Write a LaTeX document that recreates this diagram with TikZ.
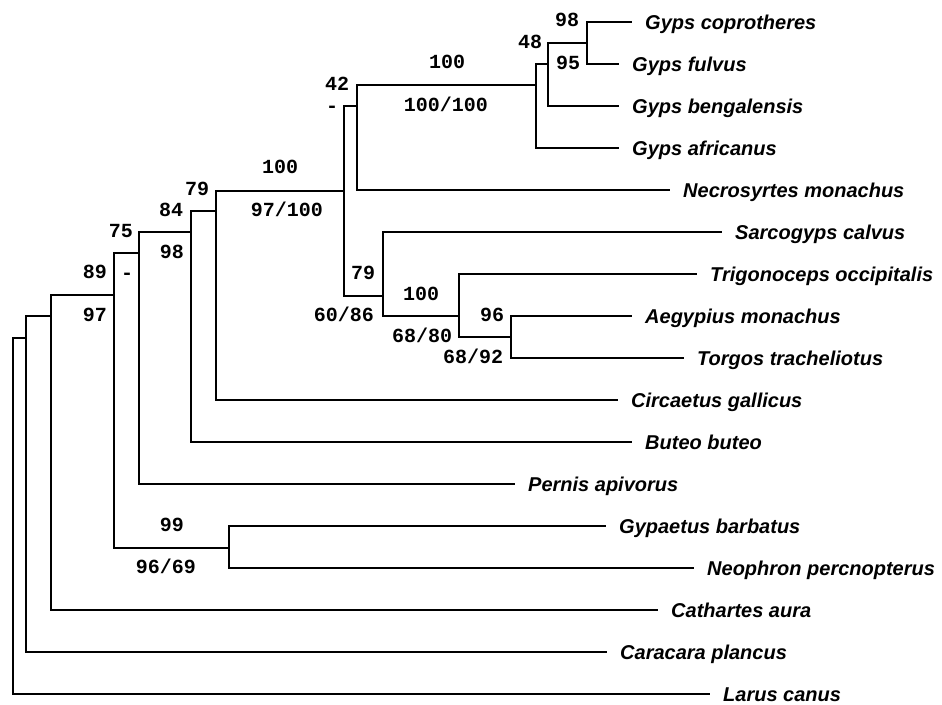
\documentclass[tikz,border=0pt]{standalone}
\usepackage{fontspec}
\setmainfont{Liberation Sans}
\newfontfamily\bootfont{Liberation Mono}
\usetikzlibrary{positioning}

\begin{document}
\begin{tikzpicture}[x=1pt,y=-1pt,
  branch/.style={line width=1.3pt},
  leaf/.style={anchor=west,inner xsep=13pt,inner ysep=0pt,text height=15pt,text depth=1pt,
    font=\fontsize{20}{24}\selectfont\bfseries\itshape},
  boot/.style={inner sep=0pt,text height=11.5pt,text depth=0pt,
    font=\fontsize{20}{24}\selectfont\bootfont\bfseries}]
\useasboundingbox (0,0) rectangle (942,704);
% inner nodes of the tree
\coordinate (R) at (13,516);
\coordinate (A) at (26,338);
\coordinate (B) at (51,316);
\coordinate (C) at (114,295);
\coordinate (D) at (139,253);
\coordinate (E) at (191,232);
\coordinate (F) at (216,211);
\coordinate (H) at (344,191);
\coordinate (I) at (357,106);
\coordinate (K) at (536,85);
\coordinate (L) at (548,64);
\coordinate (M) at (587,43);
\coordinate (J) at (383,296);
\coordinate (N) at (459,316);
\coordinate (O) at (511,337);
\coordinate (G) at (229,548);
% taxa
\foreach \nm/\xe/\row/\txt in {gcop/632/0/Gyps coprotheres, gful/619/1/Gyps fulvus,
  gben/619/2/Gyps bengalensis, gafr/619/3/Gyps africanus, nmon/670/4/Necrosyrtes monachus,
  scal/722/5/Sarcogyps calvus, tocc/697/6/Trigonoceps occipitalis, amon/632/7/Aegypius monachus,
  ttra/684/8/Torgos tracheliotus, cgal/618/9/Circaetus gallicus, bbut/632/10/Buteo buteo,
  papi/515/11/Pernis apivorus, gbar/606/12/Gypaetus barbatus, nper/694/13/Neophron percnopterus,
  caur/658/14/Cathartes aura, cpla/607/15/Caracara plancus, lcan/710/16/Larus canus}
  \node[leaf] (\nm) at (\xe,{22+42*\row}) {\txt};
% branches
\foreach \p/\c in {R/A,A/B,B/C,C/D,C/G,D/E,E/F,F/H,H/I,H/J,I/K,K/L,L/M,J/N,N/O}
  \draw[branch] (\p) |- (\c);
\foreach \p/\c in {M/gcop,M/gful,L/gben,K/gafr,I/nmon,J/scal,N/tocc,O/amon,O/ttra,
  F/cgal,E/bbut,D/papi,G/gbar,G/nper,B/caur,A/cpla,R/lcan}
  \draw[branch] (\p) |- (\c.west);
% bootstrap values
\foreach \x/\y/\t [count=\i] in {567/21/98, 568/64/95, 530/43/48, 447/63/100, 446/106/{100/100},
  337/85/42, 332/107/-, 280/168/100, 287/211/{97/100}, 197/190/79, 171/211/84, 172/253/98,
  121/232/75, 127/274/-, 95/273/89, 95/316/97, 172/526/99, 166/568/{96/69}, 363/274/79,
  344/316/{60/86}, 421/295/100, 422/337/{68/80}, 492/316/96, 473/358/{68/92}}
  \node[boot] (bs\i) at (\x,\y) {\t};
\end{tikzpicture}
\end{document}
